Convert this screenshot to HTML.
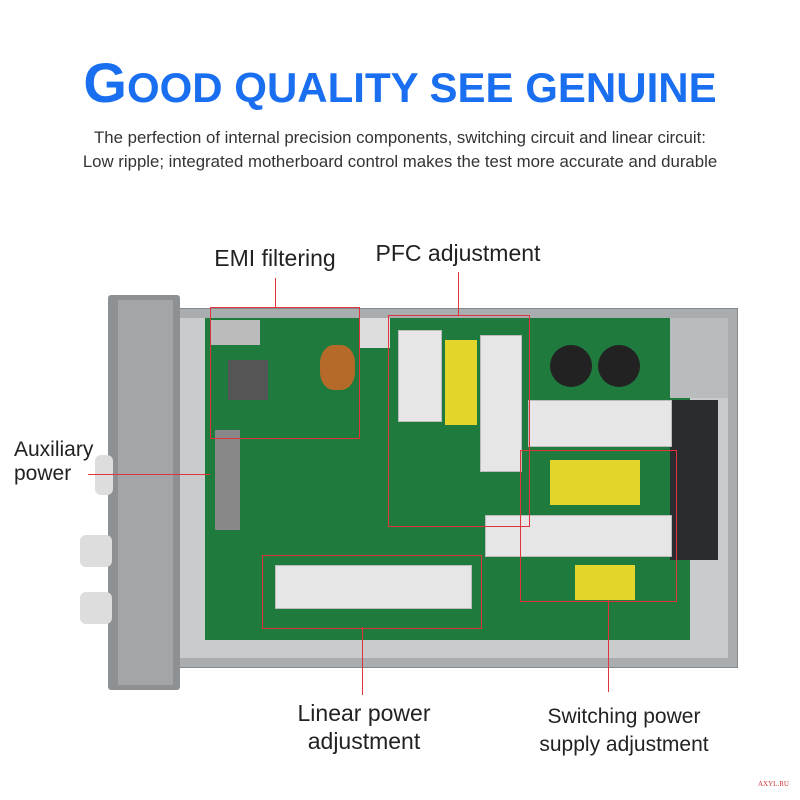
<!DOCTYPE html>
<html><head><style>
body{margin:0;width:800px;height:800px;background:#fff;position:relative;overflow:hidden;font-family:"Liberation Sans",sans-serif}
.a{position:absolute}
.t{left:0;width:800px;text-align:center;top:50px;font-size:42px;font-weight:bold;color:#1a6ff0;letter-spacing:0px;white-space:nowrap}
.t b{font-size:56px}
.s{left:0;width:800px;text-align:center;font-size:16.8px;color:#333;white-space:nowrap}
.l{font-size:23px;color:#222;text-align:center}
.r{border:1px solid #e0343a}
.hs{background:#e6e6e6;border:1px solid #bbb}
</style></head><body>
<div class="a t"><b>G</b>OOD QUALITY SEE GENUINE</div>
<div class="a s" style="top:128px">The perfection of internal precision components, switching circuit and linear circuit:</div>
<div class="a s" style="top:152px">Low ripple; integrated motherboard control makes the test more accurate and durable</div>

<div class="a" style="left:168px;top:308px;width:568px;height:358px;background:#a9adb0;border:1px solid #888"></div>
<div class="a" style="left:178px;top:318px;width:550px;height:340px;background:#c9cbcc"></div>
<div class="a" style="left:205px;top:318px;width:485px;height:322px;background:#1f7a3e"></div>
<div class="a" style="left:670px;top:318px;width:58px;height:80px;background:#b9bbbd"></div>
<div class="a" style="left:670px;top:400px;width:48px;height:160px;background:#2a2d30"></div>
<div class="a" style="left:108px;top:295px;width:72px;height:395px;background:#8e9194;border-radius:3px"></div>
<div class="a" style="left:118px;top:300px;width:55px;height:385px;background:#a3a6a9"></div>
<div class="a" style="left:80px;top:535px;width:32px;height:32px;background:#ddd;border-radius:6px"></div>
<div class="a" style="left:80px;top:592px;width:32px;height:32px;background:#ddd;border-radius:6px"></div>
<div class="a" style="left:95px;top:455px;width:18px;height:40px;background:#ddd;border-radius:6px"></div>
<div class="a hs" style="left:398px;top:330px;width:42px;height:90px"></div>
<div class="a" style="left:445px;top:340px;width:32px;height:85px;background:#e4d52a"></div>
<div class="a hs" style="left:480px;top:335px;width:40px;height:135px"></div>
<div class="a hs" style="left:528px;top:400px;width:142px;height:45px"></div>
<div class="a" style="left:550px;top:460px;width:90px;height:45px;background:#e4d52a"></div>
<div class="a hs" style="left:485px;top:515px;width:185px;height:40px"></div>
<div class="a" style="left:575px;top:565px;width:60px;height:35px;background:#e4d52a"></div>
<div class="a hs" style="left:275px;top:565px;width:195px;height:42px"></div>
<div class="a" style="left:550px;top:345px;width:42px;height:42px;background:#222;border-radius:50%"></div>
<div class="a" style="left:598px;top:345px;width:42px;height:42px;background:#222;border-radius:50%"></div>
<div class="a" style="left:228px;top:360px;width:40px;height:40px;background:#555"></div>
<div class="a" style="left:320px;top:345px;width:35px;height:45px;background:#b66a2a;border-radius:40%"></div>
<div class="a" style="left:215px;top:430px;width:25px;height:100px;background:#888"></div>
<div class="a" style="left:210px;top:320px;width:50px;height:25px;background:#bbb"></div>
<div class="a" style="left:360px;top:318px;width:30px;height:30px;background:#ddd"></div>

<div class="a r" style="left:210px;top:307px;width:148px;height:130px"></div>
<div class="a" style="left:275px;top:278px;width:1px;height:30px;background:#e0343a"></div>
<div class="a r" style="left:388px;top:315px;width:140px;height:210px"></div>
<div class="a" style="left:458px;top:272px;width:1px;height:43px;background:#e0343a"></div>
<div class="a" style="left:88px;top:474px;width:122px;height:1px;background:#e0343a"></div>
<div class="a r" style="left:262px;top:555px;width:218px;height:72px"></div>
<div class="a" style="left:362px;top:627px;width:1px;height:68px;background:#e0343a"></div>
<div class="a r" style="left:520px;top:450px;width:155px;height:150px"></div>
<div class="a" style="left:608px;top:600px;width:1px;height:92px;background:#e0343a"></div>

<div class="a l" style="left:205px;top:245px;width:140px">EMI filtering</div>
<div class="a l" style="left:368px;top:240px;width:180px">PFC adjustment</div>
<div class="a l" style="left:14px;top:438px;width:80px;font-size:21px;line-height:24px;text-align:left">Auxiliary<br>power</div>
<div class="a l" style="left:264px;top:699px;width:200px;line-height:28px">Linear power<br>adjustment</div>
<div class="a l" style="left:514px;top:703px;width:220px;line-height:28px;font-size:21px">Switching power<br>supply adjustment</div>
<div class="a" style="left:758px;top:780px;font-size:7px;color:#c33;font-family:'Liberation Serif',serif">AXYL.RU</div>
</body></html>
